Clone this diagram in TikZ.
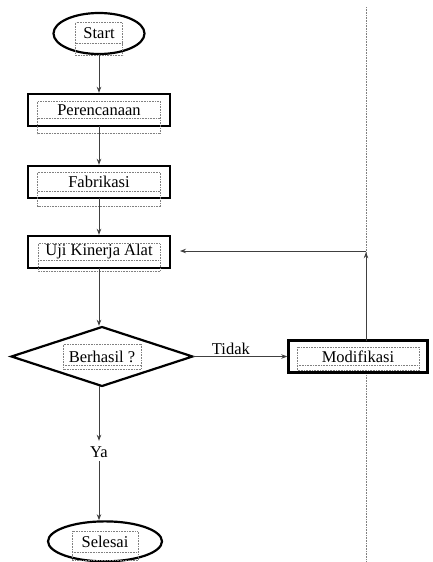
\documentclass[tikz,border=0pt]{standalone}
\usepackage{fontspec}
\setmainfont{Liberation Serif}
\usetikzlibrary{arrows.meta,positioning,shapes.geometric}

\begin{document}
\begin{tikzpicture}[
  x=1pt,y=1pt,
  font=\fontsize{16.5}{19}\selectfont,
  term/.style={draw,ellipse,line width=2.2pt,inner sep=0pt,outer sep=0pt,fill=white},
  box/.style={draw,line width=2.6pt,minimum width=142pt,minimum height=32pt,inner sep=0pt,outer sep=0pt,fill=white},
  dec/.style={draw,diamond,aspect=3,line width=2.2pt,minimum width=181pt,minimum height=59pt,inner sep=0pt,outer sep=0pt,fill=white},
  arr/.style={-{Stealth[length=6pt,width=4.5pt]},line width=0.8pt,black!75,shorten >=1.2pt},
  tbox/.style={gray,densely dotted,line width=0.6pt}
]
\useasboundingbox (0,0) rectangle (433,-562);
\coordinate (garis) at (366,-7);
\coordinate (garisb) at (366,-562);
\draw[tbox] (garis) -- (garisb);

\node[term,minimum width=91pt,minimum height=41pt] (start) at (99,-33.5) {Start};
\node[box,below=40pt of start] (pere) {Perencanaan};
\node[box,below=40pt of pere] (fab) {Fabrikasi};
\node[box,below=38pt of fab] (uji) {Uji Kinerja Alat};
\node[dec,below=59pt of uji,xshift=3pt] (cek) {Berhasil ?};
\node[inner sep=4pt,below=56pt of cek,xshift=-3pt] (ya) {Ya};
\node[term,minimum width=114pt,minimum height=40pt,below=60pt of ya,xshift=6pt] (selesai) {Selesai};
\node[box,minimum width=139pt,right=96pt of cek] (modif) {Modifikasi};
\coordinate (belok) at (366,-251);

% bingkai teks
\foreach \n/\w/\t/\m/\b in {start/23.5/11/-10/-22, pere/61.5/8.5/-8.5/-23.5,
  fab/61.5/9.5/-9.5/-24.5, uji/61/8.5/-8.5/-19, cek/39/12/-9/-13,
  modif/61/9.5/-8.5/-14, selesai/33/10/-11/-19}{
  \draw[tbox] ([shift={(-\w,\t)}]\n.center) rectangle ([shift={(\w,\b)}]\n.center);
  \draw[tbox] ([shift={(-\w,\m)}]\n.center) -- ([shift={(\w,\m)}]\n.center);
}

\draw[arr] (start) -- (pere);
\draw[arr] (pere) -- (fab);
\draw[arr] (fab) -- (uji);
\draw[arr] (uji) -- (uji |- cek.north);
\draw[arr] (ya |- cek.south) -- (ya);
\draw[arr] (ya) -- (ya |- selesai.north);
\draw[arr] (cek) -- node[above,inner sep=1pt,pos=0.4,text=black] (tidak) {Tidak} (modif);
\draw[arr] (modif.north -| belok) -- (belok);
\draw[arr,shorten >=10pt] (belok) -- (belok -| uji.east);
\end{tikzpicture}
\end{document}
